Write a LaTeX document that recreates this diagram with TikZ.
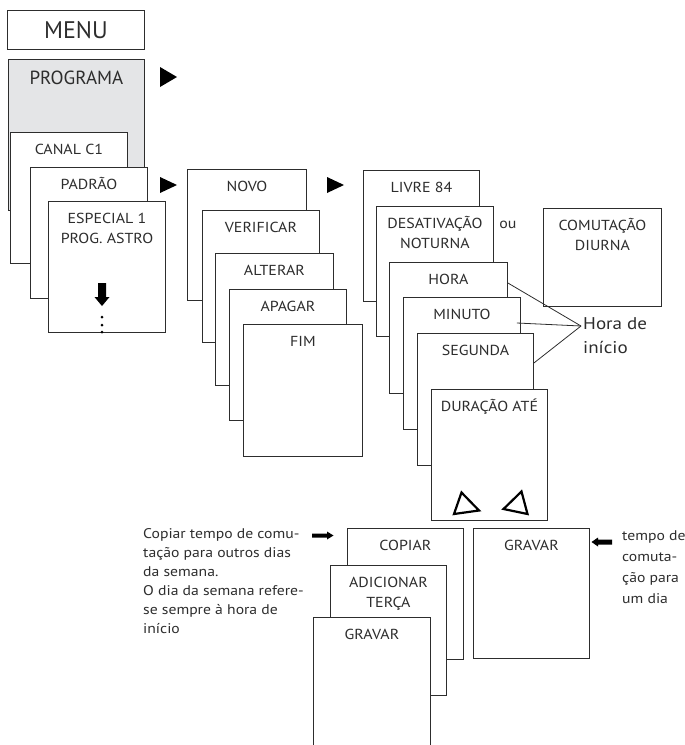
\documentclass[tikz,border=0pt]{standalone}
\usepackage{fontspec}
\setmainfont{PT Sans}
\newfontfamily\lblfont{PT Sans}[FakeStretch=1.1]
\newfontfamily\notefont{PT Sans}[FakeStretch=1.12]
\definecolor{lc}{RGB}{45,45,45}
\definecolor{pg}{RGB}{228,229,231}
\begin{document}
\begin{tikzpicture}[x=1pt,y=-1pt,
  bx/.style 2 args={draw=lc, line width=0.9pt, fill=white, anchor=north west, inner sep=0pt,
    minimum width=#1, text height=22pt, text depth=#2, align=center,
    font=\lblfont\fontsize{14.5}{20}\selectfont, text=lc},
  two/.style={text height=42pt},
  note/.style={align=left, anchor=base west, inner sep=0pt, font=\notefont\fontsize{14}{19}\selectfont, text=lc},
  play/.style={fill=black},
  link/.style={draw=lc, line width=0.8pt},
  btn/.style={draw=black, line width=2.2pt, line join=miter}
]
\path[use as bounding box, clip] (0,0) rectangle (685,745);

% left column
\node[draw=lc, line width=0.9pt, anchor=north west, minimum width=137pt, minimum height=39pt,
  inner sep=0pt, font=\fontsize{24}{28}\selectfont, text=lc] (menu) at (7,10) {MENU};
\node[bx={136pt}{125.5pt}, fill=pg, text height=25.5pt, font=\fontsize{19}{22}\selectfont] (prog) at (8,59) {PROGRAMA};
\node[bx={117pt}{109pt}] (canal) at (10,132) {CANAL C1};
\node[bx={117pt}{109pt}] (padrao) at (30,167) {PADRÃO};
\node[bx={117pt}{89pt}, two] (esp) at (48,201) {ESPECIAL 1\\PROG. ASTRO};
\fill (98,283) -- (106,283) -- (106,297) -- (109.5,297) -- (102,306) -- (94.5,297) -- (98,297) -- cycle;
\fill (102,317) circle (1.5) (102,325) circle (1.5) (102,332) circle (1.5);

\fill[play] (160,67) -- (177,77) -- (160,87) -- cycle;
\fill[play] (160,177) -- (177,185) -- (160,193) -- cycle;

% second column
\node[bx={119pt}{109pt}] (novo) at (187,169) {NOVO};
\node[bx={117pt}{110pt}] (verif) at (202,210) {VERIFICAR};
\node[bx={118pt}{110pt}] (alter) at (215,253) {ALTERAR};
\node[bx={117pt}{109pt}] (apagar) at (229,289) {APAGAR};
\node[bx={119pt}{110pt}] (fim) at (243,324) {FIM};

\fill[play] (327,177) -- (344,185) -- (327,193) -- cycle;

% third column
\node[bx={116pt}{109pt}] (livre) at (363,170) {LIVRE 84};
\node[bx={117pt}{88pt}, two] (desat) at (376,206) {DESATIVAÇÃO\\NOTURNA};
\node[font=\lblfont\fontsize{14.5}{16}\selectfont, text=lc, inner sep=0pt] (ou) at (508,225) {ou};
\node[bx={118pt}{56pt}, two] (comut) at (543,208) {COMUTAÇÃO\\DIURNA};
\node[bx={118pt}{109pt}] (hora) at (389,262) {HORA};
\node[bx={117pt}{110pt}] (minuto) at (403,297) {MINUTO};
\node[bx={116pt}{110pt}] (segunda) at (417,333) {SEGUNDA};
\node[bx={116pt}{109pt}] (dur) at (431,389) {DURAÇÃO ATÉ};
\draw[btn] (461.5,492.5) -- (454,514) -- (479,510.5) -- cycle;
\draw[btn] (521.5,491.5) -- (503.5,509) -- (527.5,514) -- cycle;

\node[anchor=base west, align=left, inner sep=0pt, font=\notefont\fontsize{17}{24}\selectfont, text=lc] (hi) at (583,353) {Hora de\\início};
\coordinate (hc) at (581,326);
\draw[link] ([yshift=-21pt]hora.north east) -- (hc);
\draw[link] ([xshift=-4pt,yshift=-26pt]minuto.north east) -- (hc);
\draw[link] ([yshift=-30pt]segunda.north east) -- (hc);

% bottom
\node[note] (n1) at (143,633) {Copiar tempo de comu-\\tação para outros dias\\da semana.\\O dia da semana refere-\\se sempre à hora de\\início};
\fill (312,533.5) -- (327,533.5) -- (327,531.5) -- (333.5,535.5) -- (327,539.5) -- (327,537.5) -- (312,537.5) -- cycle;
\node[bx={116pt}{109pt}] (copiar) at (347,528) {COPIAR};
\node[bx={116pt}{88pt}, two] (adic) at (330,565) {ADICIONAR\\TERÇA};
\node[bx={117pt}{118pt}] (grav1) at (313,617) {GRAVAR};
\node[bx={116pt}{108pt}] (grav2) at (473,528) {GRAVAR};
\fill (591.5,542) -- (598,537.5) -- (598,539.5) -- (612,539.5) -- (612,544.5) -- (598,544.5) -- (598,546.5) -- cycle;
\node[note, font=\notefont\fontsize{14}{21}\selectfont] (n2) at (622,603) {tempo de\\comuta-\\ção para\\um dia};
\end{tikzpicture}
\end{document}
